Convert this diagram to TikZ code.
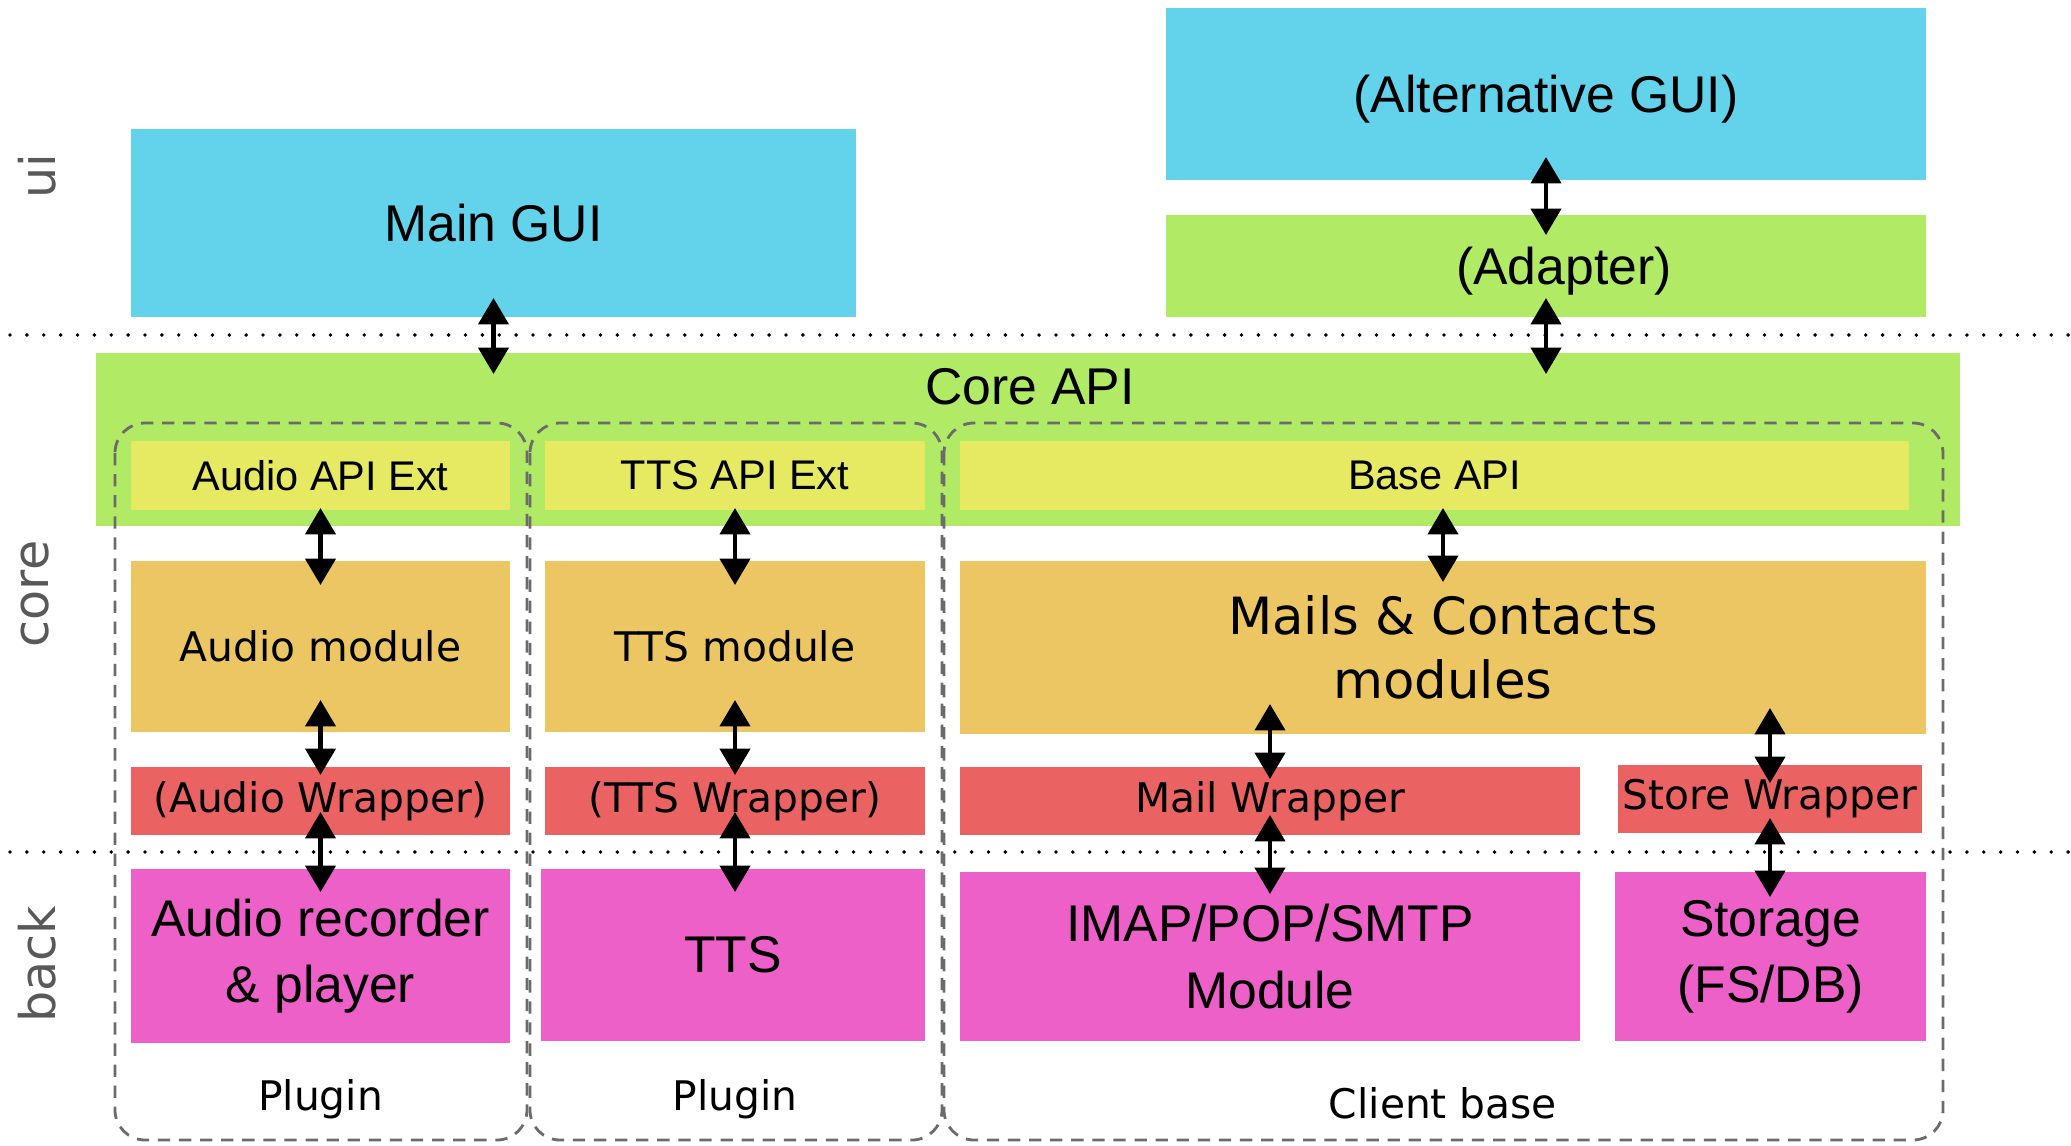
\documentclass[tikz,border=0pt]{standalone}
\usepackage{fontspec}
\setmainfont{Liberation Sans}
\newfontfamily\dejavu{DejaVu Sans}
\usetikzlibrary{arrows.meta}

\definecolor{uiblue}{HTML}{63D2EB}
\definecolor{apigreen}{HTML}{B1EB66}
\definecolor{apiyellow}{HTML}{E6E962}
\definecolor{modorange}{HTML}{EBC663}
\definecolor{wrapred}{HTML}{EB6262}
\definecolor{backpink}{HTML}{EC60C8}

\begin{document}
\begin{tikzpicture}[
		blk/.style={inner sep=0pt, outer sep=0pt, align=center},
		big/.style={font=\fontsize{14.7}{18.8}\selectfont},
		mid/.style={font=\fontsize{11.8}{14}\selectfont},
		small/.style={font=\dejavu\fontsize{11.6}{14}\selectfont},
		side/.style={font=\dejavu\fontsize{14}{16}\selectfont, text=black!65, rotate=90},
		biarrow/.style={{Triangle[width=8.5pt,length=7.5pt]}-{Triangle[width=8.5pt,length=7.5pt]}, line width=1.3pt},
		grp/.style={draw=black!58, line width=0.8pt, dash pattern=on 3.5pt off 2.5pt, rounded corners=3mm},
		sep/.style={line width=1.1pt, line cap=round, dash pattern=on 0pt off 4.8pt}
	]
	\useasboundingbox (0,0) rectangle (20.71,-11.45);

	% ui layer
	\node[blk, big, fill=uiblue, minimum width=7.25cm, minimum height=1.88cm] (maingui) at (4.935,-2.23) {Main GUI};
	\node[blk, big, fill=uiblue, minimum width=7.60cm, minimum height=1.72cm, text depth=0pt] (altgui) at (15.46,-0.94) {(Alternative GUI)};
	\node[blk, big, fill=apigreen, minimum width=7.60cm, minimum height=1.02cm, text depth=0pt] (adapter) at (15.46,-2.66) {\hspace*{0.36cm}(Adapter)};

	% core layer
	\node[blk, fill=apigreen, minimum width=18.64cm, minimum height=1.73cm] (coreapi) at (10.28,-4.395) {};
	\node[blk, big] (coretitle) at (10.30,-3.87) {Core API};
	\node[blk, mid, fill=apiyellow, minimum width=3.79cm, minimum height=0.69cm] (audioapi) at (3.205,-4.755) {Audio API Ext};
	\node[blk, mid, fill=apiyellow, minimum width=3.80cm, minimum height=0.69cm] (ttsapi) at (7.35,-4.755) {TTS API Ext};
	\node[blk, mid, fill=apiyellow, minimum width=9.49cm, minimum height=0.69cm] (baseapi) at (14.345,-4.755) {Base API};

	\node[blk, small, fill=modorange, minimum width=3.79cm, minimum height=1.71cm] (audiomod) at (3.205,-6.465) {Audio module};
	\node[blk, small, fill=modorange, minimum width=3.80cm, minimum height=1.71cm] (ttsmod) at (7.35,-6.465) {TTS module};
	\node[blk, fill=modorange, minimum width=9.66cm, minimum height=1.73cm,
		font=\dejavu\fontsize{14.6}{18.4}\selectfont] (mailsmod) at (14.43,-6.475) {Mails \& Contacts\\modules};

	\node[blk, small, fill=wrapred, minimum width=3.79cm, minimum height=0.68cm] (audiowrap) at (3.205,-8.01) {(Audio Wrapper)};
	\node[blk, small, fill=wrapred, minimum width=3.80cm, minimum height=0.68cm] (ttswrap) at (7.35,-8.01) {(TTS Wrapper)};
	\node[blk, small, fill=wrapred, minimum width=6.20cm, minimum height=0.68cm] (mailwrap) at (12.70,-8.01) {Mail Wrapper};
	\node[blk, small, fill=wrapred, minimum width=3.04cm, minimum height=0.68cm] (storewrap) at (17.70,-7.99) {Store Wrapper};

	% back layer
	\node[blk, big, fill=backpink, minimum width=3.79cm, minimum height=1.74cm] (audiorec) at (3.205,-9.56) {Audio recorder\\\& player};
	\node[blk, big, fill=backpink, minimum width=3.84cm, minimum height=1.72cm] (tts) at (7.33,-9.55) {TTS};
	\node[blk, big, fill=backpink, minimum width=6.20cm, minimum height=1.69cm] (imap) at (12.70,-9.565) {IMAP/POP/SMTP\\Module};
	\node[blk, big, fill=backpink, minimum width=3.11cm, minimum height=1.69cm] (storage) at (17.705,-9.565) {Storage\\(FS/DB)};

	% layer separators
	\draw[sep] (0.10,-3.35) -- (20.71,-3.35);
	\draw[sep] (0.10,-8.52) -- (20.71,-8.52);

	\node[side] (uilbl) at (0.37,-1.76) {ui};
	\node[side] (corelbl) at (0.35,-5.94) {core};
	\node[side] (backlbl) at (0.37,-9.64) {back};

	% packaging
	\draw[grp] (1.15,-4.23) rectangle (5.27,-11.40);
	\draw[grp] (5.30,-4.23) rectangle (9.42,-11.40);
	\draw[grp] (9.44,-4.23) rectangle (19.43,-11.40);
	\node[small] (plugina) at (3.205,-10.99) {Plugin};
	\node[small] (pluginb) at (7.35,-10.99) {Plugin};
	\node[small] (clientbase) at (14.43,-11.03) {Client base};

	% connections
	\draw[biarrow, shorten <=-1.9mm, shorten >=-2.1mm] (maingui.south) -- (maingui.south |- coreapi.north);
	\draw[biarrow, shorten <=-2.3mm, shorten >=-2.0mm] (altgui.south) -- (adapter.north);
	\draw[biarrow, shorten <=-1.9mm, shorten >=-2.1mm] (adapter.south) -- (adapter.south |- coreapi.north);

	\draw[biarrow, shorten <=-0.2mm, shorten >=-2.4mm] (audioapi.south) -- (audiomod.north);
	\draw[biarrow, shorten <=-0.2mm, shorten >=-2.4mm] (ttsapi.south) -- (ttsmod.north);
	\draw[biarrow, shorten <=-0.2mm, shorten >=-2.1mm] (mailsmod.north |- baseapi.south) -- (mailsmod.north);

	\draw[biarrow, shorten <=-3.2mm, shorten >=-0.8mm] (audiomod.south) -- (audiowrap.north);
	\draw[biarrow, shorten <=-3.2mm, shorten >=-0.8mm] (ttsmod.south) -- (ttswrap.north);
	\draw[biarrow, shorten <=-3.0mm, shorten >=-1.2mm] (mailwrap.north |- mailsmod.south) -- (mailwrap.north);
	\draw[biarrow, shorten <=-2.6mm, shorten >=-1.8mm] (storewrap.north |- mailsmod.south) -- (storewrap.north);

	\draw[biarrow, shorten <=-2.3mm, shorten >=-2.3mm] (audiowrap.south) -- (audiorec.north);
	\draw[biarrow, shorten <=-2.3mm, shorten >=-2.3mm] (ttswrap.south) -- (ttswrap.south |- tts.north);
	\draw[biarrow, shorten <=-2.0mm, shorten >=-2.2mm] (mailwrap.south) -- (imap.north);
	\draw[biarrow, shorten <=-1.5mm, shorten >=-2.5mm] (storewrap.south) -- (storewrap.south |- storage.north);
\end{tikzpicture}
\end{document}
